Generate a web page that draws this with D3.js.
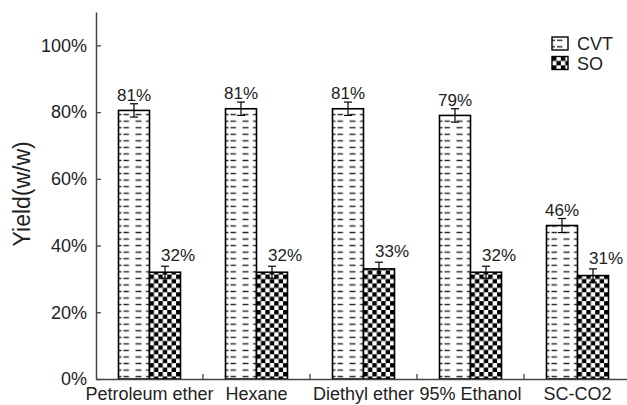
<!DOCTYPE html>
<html>
<head>
<meta charset="utf-8">
<script src="https://cdn.jsdelivr.net/npm/d3@7"></script>
<style>
  body { margin: 0; background: #fff; }
  text { font-family: "Liberation Sans", Arial, sans-serif; fill: #222; }
</style>
</head>
<body>
<script>
// data
var categories = ["Petroleum ether", "Hexane", "Diethyl ether", "95% Ethanol", "SC-CO2"];
var seriesNames = ["CVT", "SO"];
var cvtValues = [0.805, 0.81, 0.81, 0.79, 0.46];
var soValues = [0.32, 0.32, 0.33, 0.32, 0.31];
var cvtErrors = [0.02, 0.02, 0.02, 0.02, 0.021];
var soErrors = [0.018, 0.018, 0.02, 0.018, 0.02];
var cvtLabels = ["81%", "81%", "81%", "79%", "46%"];
var soLabels = ["32%", "32%", "33%", "32%", "31%"];
var yTicks = [0, 0.2, 0.4, 0.6, 0.8, 1.0];

var width = 627, height = 405;
var svg = d3.select("body").append("svg")
  .attr("width", width)
  .attr("height", height);

//scales
var x = d3.scaleBand().domain(categories).range([96, 631]).padding(0);
var barW = 31;
var po = (x.bandwidth() / barW - 2) / 2;
var xs = d3.scaleBand().domain(seriesNames).range([0, x.bandwidth()])
  .paddingInner(0).paddingOuter(po);
var y = d3.scaleLinear().domain([0, 1.1]).range([379, 12]);

//patterns
var defs = svg.append("defs");
var rowH = 6.55;
var dash = defs.append("pattern")
  .attr("id", "dash")
  .attr("patternUnits", "userSpaceOnUse")
  .attr("width", xs.bandwidth())
  .attr("height", rowH);
dash.append("rect").attr("width", xs.bandwidth()).attr("height", rowH).attr("fill", "#fff");
[[0, 3], [5, 10.5], [17, 23], [27.5, 31]].forEach(function(s){
  dash.append("line")
    .attr("x1", s[0]).attr("x2", s[1])
    .attr("y1", rowH / 2).attr("y2", rowH / 2)
    .attr("stroke", "#222").attr("stroke-width", 1.4);
});

var cell = xs.bandwidth() / 7;
var checker = defs.append("pattern")
  .attr("id", "checker")
  .attr("patternUnits", "userSpaceOnUse")
  .attr("width", cell * 2)
  .attr("height", cell * 2);
checker.append("rect").attr("width", cell * 2).attr("height", cell * 2).attr("fill", "#fff");
checker.append("rect").attr("width", cell).attr("height", cell).attr("fill", "#000");
checker.append("rect").attr("x", cell).attr("y", cell).attr("width", cell).attr("height", cell).attr("fill", "#000");

var fills = { CVT: "url(#dash)", SO: "url(#checker)" };

//build bar records
var bars = [];
categories.forEach(function(c, i){
  bars.push({ cat: c, s: "CVT", v: cvtValues[i], e: cvtErrors[i], label: cvtLabels[i] });
  bars.push({ cat: c, s: "SO", v: soValues[i], e: soErrors[i], label: soLabels[i] });
});

var g = svg.selectAll(".bar")
  .data(bars)
  .enter()
  .append("g")
  .attr("class", "bar")
  .attr("transform", function(d){ return "translate(" + (x(d.cat) + xs(d.s)) + ",0)"; });

g.append("rect")
  .attr("x", 0)
  .attr("y", function(d){ return y(d.v); })
  .attr("width", xs.bandwidth())
  .attr("height", function(d){ return y(0) - y(d.v); })
  .attr("fill", function(d){ return fills[d.s]; })
  .attr("stroke", "#000")
  .attr("stroke-width", 1.6);

//error bars
var bw = xs.bandwidth();
g.append("line")
  .attr("x1", bw / 2).attr("x2", bw / 2)
  .attr("y1", function(d){ return y(d.v + d.e); })
  .attr("y2", function(d){ return y(d.v - d.e); })
  .attr("stroke", "#000").attr("stroke-width", 1.2);
g.selectAll(".cap")
  .data(function(d){ return [d.v + d.e, d.v - d.e]; })
  .enter()
  .append("line")
  .attr("x1", bw / 2 - 4).attr("x2", bw / 2 + 4)
  .attr("y1", function(v){ return y(v); })
  .attr("y2", function(v){ return y(v); })
  .attr("stroke", "#000").attr("stroke-width", 1.2);

//value labels
g.append("text")
  .attr("text-anchor", "middle")
  .attr("x", function(d){ return d.s === "SO" ? bw / 2 + 13 : bw / 2; })
  .attr("y", function(d){ return y(d.v + d.e) - (d.s === "SO" ? 5 : 3); })
  .style("font-size", "17px")
  .text(function(d){ return d.label; });

//y axis
var yAxis = d3.axisLeft(y)
  .tickValues(yTicks)
  .tickFormat(d3.format(".0%"))
  .tickSizeInner(-5)
  .tickSizeOuter(0)
  .tickPadding(9);
var ya = svg.append("g")
  .attr("transform", "translate(96,0)")
  .call(yAxis);
ya.select(".domain").attr("stroke", "#444").attr("stroke-width", 1.5);
ya.selectAll(".tick line").attr("stroke", "#444").attr("stroke-width", 1.3);
ya.selectAll("text").style("font-size", "18px").attr("fill", "#222");

//x axis
var xAxis = d3.axisBottom(x).tickSize(0).tickPadding(8);
var xa = svg.append("g")
  .attr("transform", "translate(0,379)")
  .call(xAxis);
xa.select(".domain").attr("stroke", "#444").attr("stroke-width", 1.5);
xa.selectAll("text").style("font-size", "18px").attr("fill", "#222");
xa.selectAll(".sep")
  .data(categories.slice(1))
  .enter()
  .append("line")
  .attr("class", "sep")
  .attr("x1", function(d){ return x(d); })
  .attr("x2", function(d){ return x(d); })
  .attr("y1", 0).attr("y2", -5)
  .attr("stroke", "#444").attr("stroke-width", 1.3);

//y axis title
svg.append("text")
  .attr("transform", "translate(30," + y(0.555) + ") rotate(-90)")
  .attr("text-anchor", "middle")
  .style("font-size", "23px")
  .text("Yield(w/w)");

//legend
var legend = svg.selectAll(".legend")
  .data(seriesNames)
  .enter()
  .append("g")
  .attr("class", "legend")
  .attr("transform", function(d, i){ return "translate(552," + (37 + i * 19.5) + ")"; });
legend.append("rect")
  .attr("width", 16).attr("height", 13)
  .attr("fill", function(d){ return fills[d]; })
  .attr("stroke", "#000").attr("stroke-width", 1.4);
legend.append("text")
  .attr("x", 25).attr("y", 13)
  .style("font-size", "18px")
  .text(function(d){ return d; });
</script>
</body>
</html>
